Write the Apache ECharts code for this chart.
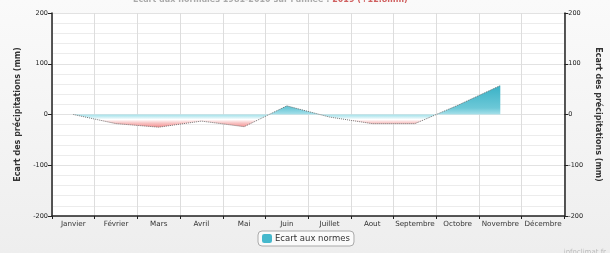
<!DOCTYPE html>
<html>
<head>
<meta charset="utf-8">
<script src="https://cdn.jsdelivr.net/npm/echarts@6/dist/echarts.min.js"></script>
<style>html,body{margin:0;padding:0;background:#f3f3f3;}#c{width:610px;height:253px;}</style>
</head>
<body>
<div id="c"></div>
<script>
const months = ['Janvier','Février','Mars','Avril','Mai','Juin','Juillet','Aout','Septembre','Octobre','Novembre','Décembre'];
const ecart = [0, -18, -25, -13, -24, 17, -5, -18, -18, 18, 57, null];
const seriesName = 'Ecart aux normes';
const axisName = 'Ecart des précipitations (mm)';
const titleGray = "Ecart aux normales 1981-2010 sur l'année : ";
const titleRed = '2019 (+12.8mm)';

const chart = echarts.init(document.getElementById('c'), null, {renderer: 'canvas'});
const gTop = 13, gBottom = 216;
const off = p => (p - gTop) / (gBottom - gTop);
const font = 'DejaVu Sans';
const yAxisCommon = {
  type: 'value', min: -200, max: 200, interval: 100,
  axisLine: {show: true, lineStyle: {color: '#222', width: 1.5}},
  axisTick: {show: true, length: 4, lineStyle: {color: '#222'}},
  axisLabel: {fontSize: 6.5, color: '#222', fontFamily: font, margin: 4},
  name: axisName, nameLocation: 'middle',
  nameTextStyle: {fontSize: 8, fontWeight: 'bold', color: '#333', fontFamily: font}
};
chart.setOption({
  backgroundColor: {type: 'linear', x: 0, y: 0, x2: 0, y2: 1, colorStops: [{offset: 0, color: '#fafafa'}, {offset: 1, color: '#eeeeee'}]},
  animation: false,
  title: {
    text: '{g|' + titleGray + '}{r|' + titleRed + '}',
    left: 128, top: -9,
    textStyle: {rich: {
      g: {fontSize: 8, fontWeight: 'bold', color: '#aaa', fontFamily: font},
      r: {fontSize: 8, fontWeight: 'bold', color: '#d06060', fontFamily: font}
    }}
  },
  grid: {left: 52, right: 45, top: gTop, bottom: 253 - gBottom, show: true, backgroundColor: '#ffffff', borderWidth: 0},
  legend: {
    data: [seriesName], left: 258, top: 231,
    backgroundColor: '#fafafa', borderColor: '#aaa', borderWidth: 1, borderRadius: 4,
    padding: [3, 4, 3, 4], itemWidth: 10, itemHeight: 9,
    icon: 'roundRect',
    textStyle: {fontSize: 8.5, color: '#333', fontFamily: font, padding: [0, 0, 0, -2]}
  },
  xAxis: {
    type: 'category', data: months, boundaryGap: true,
    axisLine: {onZero: false, lineStyle: {color: '#222', width: 1.5}},
    axisTick: {show: true, length: 3, lineStyle: {color: '#222'}},
    axisLabel: {fontSize: 7.2, color: '#333', fontFamily: font, margin: 5, interval: 0},
    splitLine: {show: true, lineStyle: {color: '#dddddd', width: 1}}
  },
  yAxis: [
    Object.assign({}, yAxisCommon, {
      position: 'left', nameGap: 30, nameRotate: 90,
      splitLine: {show: true, lineStyle: {color: '#e2e2e2'}},
      minorTick: {show: false, splitNumber: 5},
      minorSplitLine: {show: true, lineStyle: {color: '#ececec'}}
    }),
    Object.assign({}, yAxisCommon, {
      position: 'right', nameGap: 28, nameRotate: -90,
      splitLine: {show: false}
    })
  ],
  series: [{
    name: seriesName, type: 'line', data: ecart, yAxisIndex: 0,
    symbol: 'none', smooth: false,
    itemStyle: {color: '#45b8cc'},
    lineStyle: {color: '#777', width: 1, type: 'dotted'},
    areaStyle: {
      origin: 0, opacity: 1,
      color: {type: 'linear', global: true, x: 0, y: gTop, x2: 0, y2: gBottom, colorStops: [
        {offset: 0, color: '#2aa8bf'},
        {offset: off(85), color: '#38b1c6'},
        {offset: off(108), color: '#6cc8d7'},
        {offset: off(113), color: '#9adbe6'},
        {offset: off(116), color: '#b8e8ef'},
        {offset: off(119.5), color: '#ffffff'},
        {offset: off(123), color: '#f8c4c4'},
        {offset: off(127), color: '#f39292'},
        {offset: 1, color: '#f08080'}
      ]}
    }
  }],
  graphic: [{
    type: 'text', right: 4, bottom: -3,
    style: {text: 'infoclimat.fr', fontSize: 7, fill: '#bbb', fontFamily: font}
  }]
});
</script>
</body>
</html>
